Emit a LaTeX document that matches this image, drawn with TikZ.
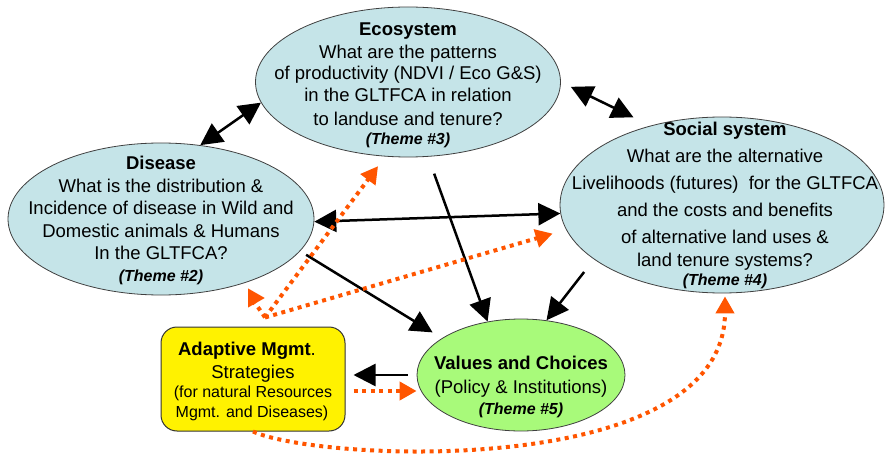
\documentclass[tikz,border=0pt]{standalone}
\usepackage{fontspec}
\setmainfont{Liberation Sans}
\usetikzlibrary{shapes.geometric,arrows.meta}
\definecolor{lblue}{RGB}{197,228,232}
\definecolor{lgreen}{RGB}{168,250,122}
\definecolor{dorange}{RGB}{255,85,0}
\tikzset{
  bubble/.style={ellipse, draw=black!75, line width=0.8pt, fill=lblue, inner sep=0pt},
  txt/.style={inner sep=0pt, text height=13pt, text depth=0pt, font=\fontsize{18.5}{22}\selectfont},
  ttl/.style={inner sep=0pt, text height=13pt, text depth=0pt, font=\fontsize{18.5}{22}\selectfont\bfseries},
  small/.style={inner sep=0pt, text height=11.5pt, text depth=0pt, font=\fontsize{16}{19}\selectfont},
  thm/.style={inner sep=0pt, text height=11.5pt, text depth=0pt, font=\fontsize{16}{19}\selectfont\bfseries\itshape},
  blk/.style={draw=black, line width=2.5pt, -{Triangle[length=22pt,width=22pt]}},
  blktwo/.style={draw=black, line width=2.5pt, {Triangle[length=22pt,width=22pt]}-{Triangle[length=22pt,width=22pt]}},
  org/.style={draw=dorange, line width=4pt, dash pattern=on 4pt off 4.5pt, -{Triangle[length=17pt,width=18pt]}},
}
\begin{document}
\begin{tikzpicture}[x=1pt,y=-1pt]
\fill[white] (0,0) rectangle (886,457);
\useasboundingbox (0,0) rectangle (886,457);

% shapes
\node[bubble, minimum width=305pt, minimum height=150pt] (eco) at (408,82) {};
\node[bubble, minimum width=306pt, minimum height=152pt] (dis) at (161,219) {};
\node[bubble, minimum width=324pt, minimum height=176pt] (soc) at (722,205) {};
\node[bubble, fill=lgreen, minimum width=208pt, minimum height=112pt] (val) at (521,375) {};
\node[draw=black!80, line width=1pt, fill=yellow, rounded corners=16pt,
      minimum width=184pt, minimum height=104pt, inner sep=0pt] (ada) at (253,379) {};

% Ecosystem text
\node[ttl] (ecoA) at (408,28.8) {Ecosystem};
\node[txt] (ecoB) at (408,51.7) {What are the patterns};
\node[txt] (ecoC) at (408,73.3) {of productivity (NDVI / Eco G\&S)};
\node[txt] (ecoD) at (408,95.5) {in the GLTFCA in relation};
\node[txt] (ecoE) at (408,118.7) {to landuse and tenure?};
\node[thm] (ecoF) at (408,139) {(Theme \#3)};

% Disease text
\node[ttl] (disA) at (161,163.3) {Disease};
\node[txt] (disB) at (161,185.7) {What is the distribution \&};
\node[txt] (disC) at (161,207.7) {Incidence of disease in Wild and};
\node[txt] (disD) at (161,230.7) {Domestic animals \& Humans};
\node[txt] (disE) at (161,253) {In the GLTFCA?};
\node[thm] (disF) at (161,275.5) {(Theme \#2)};

% Social text
\node[ttl] (socA) at (725,128.8) {Social system};
\node[txt] (socB) at (725,155.8) {What are the alternative};
\node[txt] (socC) at (725,183.3) {Livelihoods (futures)\ \ for the GLTFCA};
\node[txt] (socD) at (725,210) {and the costs and benefits};
\node[txt] (socE) at (725,236.7) {of alternative land uses \&};
\node[txt] (socF) at (725,260) {land tenure systems?};
\node[thm] (socG) at (725,280) {(Theme \#4)};

% Values text
\node[ttl] (valA) at (521,363.3) {Values and Choices};
\node[txt] (valB) at (521,386.7) {(Policy \& Institutions)};
\node[thm] (valC) at (521,409) {(Theme \#5)};

% Adaptive text
\node[txt] (adaA) at (247,349) {\textbf{Adaptive Mgmt}.};
\node[txt] (adaB) at (253,371.7) {Strategies};
\node[small] (adaC) at (253,391.7) {(for natural Resources};
\node[small] (adaD) at (252,411.7) {Mgmt. and Diseases)};

% black connectors
\draw[blktwo] (dis.62) -- (eco.188);
\draw[blktwo, shorten <=11pt, shorten >=19pt] (eco.-0.5) -- (soc.132.3);
\draw[blktwo] (dis.-1) -- (soc.183.6);
\draw[blk, shorten <=18pt] (eco.-75) -- (val.122);
\draw[blk, shorten <=7pt, shorten >=11pt] (dis.-13) -- (val.155.5);
\draw[blk, shorten <=16pt] (soc.203.3) -- (val.65);
\draw[blk, shorten <=9pt, shorten >=8pt] (val.west) -- (val.west -| ada.east);

% orange dotted connectors
\coordinate (src) at ([xshift=12pt,yshift=9pt]ada.north);
\coordinate (dtip) at (265,298);
\draw[org, shorten <=8pt] ([yshift=-12pt]ada.east) -- ([yshift=-12pt]ada.east -| val.west);
\draw[org, shorten >=12pt] (src) -- (eco.-107);
\draw[org, shorten >=14pt] (src) -- (soc.189);
\draw[org] (src) .. controls (258,306) and (250,298) .. (dtip);
\draw[org] (ada.south) .. controls (320,462) and (725,480) .. ([xshift=3pt,yshift=-3pt]soc.south);
\end{tikzpicture}
\end{document}
